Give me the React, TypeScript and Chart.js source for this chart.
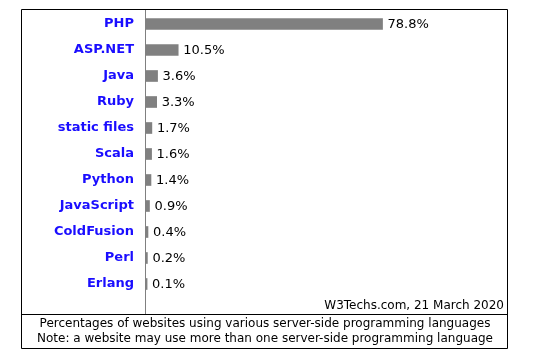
import React, { useEffect, useRef } from "react";
import { Chart, registerables } from "chart.js";

Chart.register(...registerables);

const categories = ["PHP", "ASP.NET", "Java", "Ruby", "static files", "Scala", "Python", "JavaScript", "ColdFusion", "Perl", "Erlang"];
const values = [78.8, 10.5, 3.6, 3.3, 1.7, 1.6, 1.4, 0.9, 0.4, 0.2, 0.1];
const valueLabels = ["78.8%", "10.5%", "3.6%", "3.3%", "1.7%", "1.6%", "1.4%", "0.9%", "0.4%", "0.2%", "0.1%"];
const creditText = "W3Techs.com, 21 March 2020";
const footerLines = [
  "Percentages of websites using various server-side programming languages",
  "Note: a website may use more than one server-side programming language",
];

const FONT = "'DejaVu Sans', Verdana, sans-serif";
const AXIS_MIN = -0.6;

export default function App() {
  const ref = useRef<HTMLCanvasElement | null>(null);
  useEffect(() => {
    if (!ref.current) return;
    const framePlugin = {
      id: "frame",
      afterDatasetsDraw(chart: any) {
        const ctx = chart.ctx;
        const meta = chart.getDatasetMeta(0);
        ctx.save();
        ctx.font = `13px ${FONT}`;
        ctx.fillStyle = "#000";
        ctx.textAlign = "left";
        ctx.textBaseline = "middle";
        meta.data.forEach((bar: any, i: number) => {
          ctx.fillText(valueLabels[i], bar.x + 5, bar.y + 1);
        });
        ctx.restore();
      },
      afterDraw(chart: any) {
        const ctx = chart.ctx;
        const left = chart.chartArea.left;
        ctx.save();
        ctx.strokeStyle = "#808080";
        ctx.lineWidth = 1;
        ctx.beginPath();
        ctx.moveTo(left + 0.5, 9);
        ctx.lineTo(left + 0.5, 314);
        ctx.stroke();
        ctx.strokeStyle = "#000";
        ctx.beginPath();
        ctx.rect(21.5, 9.5, 486, 339);
        ctx.moveTo(21, 314.5);
        ctx.lineTo(508, 314.5);
        ctx.stroke();
        ctx.fillStyle = "#000";
        ctx.font = `12px ${FONT}`;
        ctx.textBaseline = "middle";
        ctx.textAlign = "right";
        ctx.fillText(creditText, 504, 306);
        ctx.textAlign = "center";
        ctx.fillText(footerLines[0], 265, 324);
        ctx.fillText(footerLines[1], 265, 339);
        ctx.restore();
      },
    };
    const chart = new Chart(ref.current, {
      type: "bar",
      data: {
        labels: categories,
        datasets: [
          {
            data: values,
            base: AXIS_MIN,
            backgroundColor: "#808080",
            borderWidth: 0,
            barThickness: 11,
          },
        ],
      },
      options: {
        indexAxis: "y",
        animation: false,
        responsive: false,
        devicePixelRatio: 1,
        layout: { padding: { left: 0, right: 30, top: 11, bottom: 56 } },
        plugins: { legend: { display: false }, tooltip: { enabled: false } },
        scales: {
          x: { display: false, min: AXIS_MIN, max: 120.4 },
          y: {
            grid: { display: false, drawTicks: false },
            border: { display: false },
            ticks: {
              color: "#1a0dff",
              font: { family: FONT, size: 13, weight: "bold" },
              padding: 11,
            },
            afterFit(scale: any) {
              scale.width = 145;
              scale.paddingTop = 0;
              scale.paddingBottom = 0;
            },
          },
        },
      },
      plugins: [framePlugin],
    } as any);
    return () => chart.destroy();
  }, []);
  return (
    <div style={{ position: "fixed", left: 0, top: 0, width: 537, height: 353, background: "#fff" }}>
      <canvas ref={ref} width={537} height={353} style={{ display: "block" }} />
    </div>
  );
}
